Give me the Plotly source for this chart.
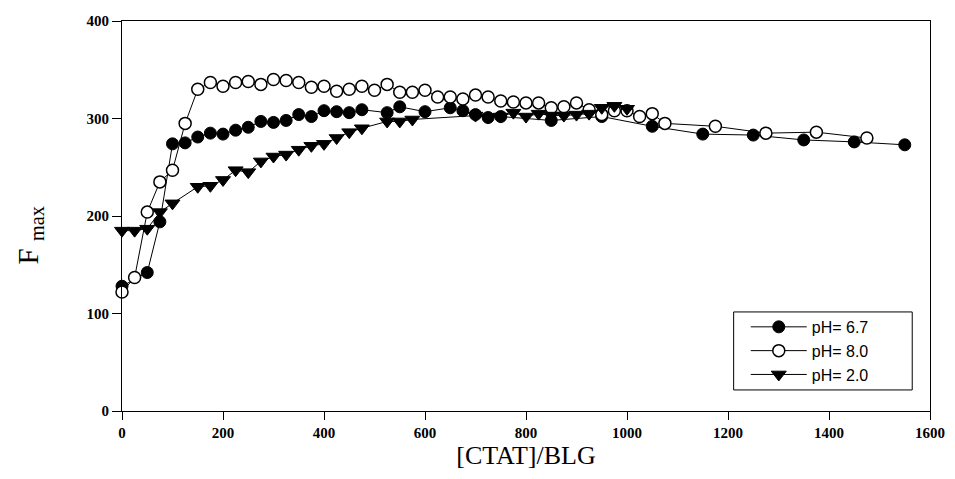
import plotly.graph_objects as go

# pH = 6.7 (filled circles)
x_67 = [0, 50, 75, 100, 125, 150, 175, 200, 225, 250, 275, 300, 325, 350, 375,
        400, 425, 450, 475, 525, 550, 600, 650, 675, 700, 725, 750, 850, 950,
        1050, 1150, 1250, 1350, 1450, 1550]
y_67 = [128, 142, 194, 274, 275, 281, 285, 284, 288, 291, 297, 296, 298, 304, 302,
        308, 307, 306, 309, 306, 312, 307, 311, 308, 304, 301, 302, 298, 302,
        292, 284, 283, 278, 276, 273]

# pH = 8.0 (open circles)
x_80 = [0, 25, 50, 75, 100, 125, 150, 175, 200, 225, 250, 275, 300, 325, 350,
        375, 400, 425, 450, 475, 500, 525, 550, 575, 600, 625, 650, 675, 700,
        725, 750, 775, 800, 825, 850, 875, 900, 925, 950, 975, 1000, 1025, 1050,
        1075, 1175, 1275, 1375, 1475]
y_80 = [122, 137, 204, 235, 247, 295, 330, 337, 333, 337, 338, 335, 340, 339, 337,
        332, 333, 328, 330, 333, 329, 335, 327, 327, 329, 322, 322, 320, 324,
        322, 318, 317, 316, 316, 311, 312, 316, 309, 304, 308, 308, 302, 305,
        295, 292, 285, 286, 280]

# pH = 2.0 (filled down triangles)
x_20 = [0, 25, 50, 75, 100, 150, 175, 200, 225, 250, 275, 300, 325, 350, 375,
        400, 425, 450, 475, 525, 550, 575, 700, 725, 750, 775, 800, 825, 850,
        875, 900, 925, 950, 975, 1000]
y_20 = [185, 185, 187, 204, 213, 230, 231, 237, 247, 245, 256, 261, 263, 268, 272,
        274, 280, 286, 290, 297, 297, 299, 303, 301, 302, 306, 302, 305, 303,
        303, 304, 305, 311, 313, 310]

x_ticks = [0, 200, 400, 600, 800, 1000, 1200, 1400, 1600]
y_ticks = [0, 100, 200, 300, 400]

fig = go.Figure()
fig.add_trace(go.Scatter(
    x=x_67, y=y_67, mode="lines+markers", name="pH= 6.7", cliponaxis=False,
    line=dict(color="black", width=1),
    marker=dict(symbol="circle", size=12, color="black",
                line=dict(color="black", width=1))))
fig.add_trace(go.Scatter(
    x=x_80, y=y_80, mode="lines+markers", name="pH= 8.0", cliponaxis=False,
    line=dict(color="black", width=1),
    marker=dict(symbol="circle", size=12, color="white",
                line=dict(color="black", width=1.5))))
fig.add_trace(go.Scatter(
    x=x_20, y=y_20, mode="lines+markers", name="pH= 2.0", cliponaxis=False,
    line=dict(color="black", width=1),
    marker=dict(symbol="triangle-down", size=13, color="black",
                line=dict(color="black", width=1))))

tickfont = dict(family="Liberation Serif, Times New Roman, serif", size=15,
                color="black", weight="bold")

fig.update_layout(
    width=947, height=471,
    margin=dict(l=114, r=25, t=13, b=68),
    paper_bgcolor="white", plot_bgcolor="white",
    showlegend=True,
    shapes=[dict(type="rect", xref="paper", yref="paper",
                 x0=0.757, x1=0.978, y0=0.054, y1=0.254,
                 line=dict(color="black", width=1), fillcolor="white",
                 layer="above")],
    annotations=[dict(text="F <sub>max</sub>", xref="paper", yref="paper",
                      x=-0.114, y=0.45, xanchor="center", yanchor="middle",
                      textangle=-90, showarrow=False,
                      font=dict(family="Liberation Serif, Times New Roman, serif",
                                size=29, color="black"))],
    legend=dict(
        x=0.772, y=0.154, xanchor="left", yanchor="middle",
        borderwidth=0, bgcolor="rgba(0,0,0,0)",
        font=dict(family="Liberation Sans, Arial, sans-serif", size=16, color="black"),
        tracegroupgap=0, itemwidth=56,
    ),
    xaxis=dict(
        range=[0, 1600], tickvals=x_ticks, ticktext=[str(v) for v in x_ticks],
        showgrid=False, zeroline=False,
        showline=True, linecolor="black", linewidth=1, mirror=True,
        ticks="outside", ticklen=8, tickcolor="black", tickwidth=1,
        tickfont=tickfont, automargin=False,
        title=dict(text="[CTAT]/BLG", standoff=4,
                   font=dict(family="Liberation Serif, Times New Roman, serif",
                             size=26, color="black")),
    ),
    yaxis=dict(
        range=[0, 400], tickvals=y_ticks, ticktext=[str(v) for v in y_ticks],
        showgrid=False, zeroline=False,
        showline=True, linecolor="black", linewidth=1, mirror=True,
        ticks="outside", ticklen=9, tickcolor="black", tickwidth=1,
        tickfont=tickfont, automargin=False,
    ),
)

fig.write_html("out.html")
